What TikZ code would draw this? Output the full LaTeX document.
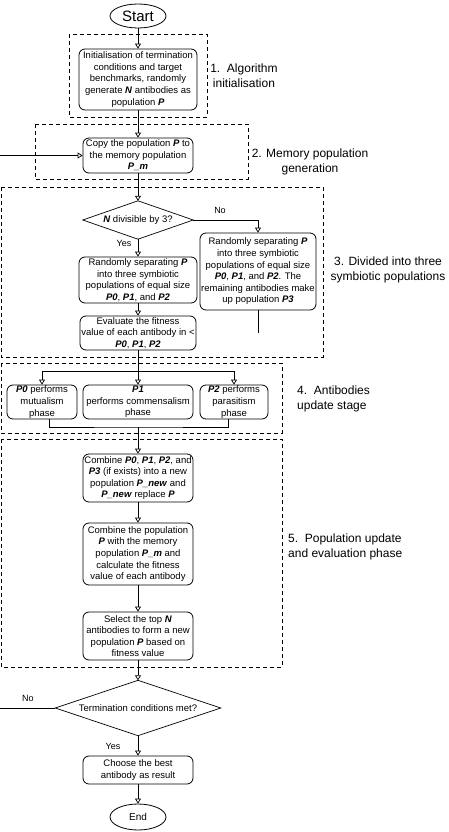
\documentclass[tikz,border=0pt]{standalone}
\usepackage{fontspec}
\setmainfont{Liberation Sans}
\usetikzlibrary{shapes.geometric,arrows.meta}
\newcommand{\bfit}[1]{\textbf{\textit{#1}}}
\begin{document}
\begin{tikzpicture}[x=1pt,y=-1pt,
  box/.style={draw, rounded corners=6pt, align=center, inner sep=0pt, line width=0.8pt,
    font=\fontsize{9.5}{11.6}\selectfont},
  term/.style={draw, ellipse, inner sep=0pt, line width=0.8pt},
  diam/.style={rectangle, inner sep=0pt, font=\fontsize{9.5}{11.6}\selectfont},
  diamline/.style={line width=0.7pt},
  grp/.style={draw, dash pattern=on 4pt off 3pt, line width=0.9pt},
  lab/.style={font=\fontsize{12}{15}\selectfont, align=center, inner sep=0pt},
  labl/.style={font=\fontsize{12}{15}\selectfont, align=left, inner sep=0pt, anchor=west},
  small/.style={font=\fontsize{9}{11}\selectfont, inner sep=0pt},
  arr/.style={-{Triangle[open,length=5pt,width=6pt]}, line width=0.7pt},
  ln/.style={line width=0.7pt}]
\useasboundingbox (0,0) rectangle (448,832);

% groups
\draw[grp] (69,34) rectangle (207,117);
\draw[grp] (35,124) rectangle (248,179);
\draw[grp] (1,187) rectangle (323,357);
\draw[grp] (1,363) rectangle (282,433);
\draw[grp] (1,439) rectangle (282,667);

% group labels
\node[lab] (l1) at (244,76) {1.\ \ Algorithm\\initialisation};
\node[lab] (l2) at (310,162) {2. Memory population\\generation};
\node[lab] (l3) at (388,270) {3. Divided into three\\symbiotic populations};
\node[labl] (l4) at (297,399) {4.\ \ Antibodies\\update stage};
\node[labl] (l5) at (288,547) {5.\ \ Population update\\and evaluation phase};

% nodes
\node[term, minimum width=56pt, minimum height=24pt, font=\fontsize{15}{18}\selectfont] (start) at (138,16) {Start};
\node[box, minimum width=118pt, minimum height=61pt] (b1) at (138,79.5)
  {Initialisation of termination\\conditions and target\\benchmarks, randomly\\generate \bfit{N} antibodies as\\population \bfit{P}};
\node[box, minimum width=110pt, minimum height=35pt] (b2) at (138,155.5)
  {Copy the population \bfit{P} to\\the memory population\\\bfit{P\_m}};
\node[diam, minimum width=110pt, minimum height=38pt] (d1) at (138,220) {\bfit{N} divisible by 3?};
\draw[diamline] (d1.north) -- (d1.east) -- (d1.south) -- (d1.west) -- cycle;
\node[box, minimum width=118pt, minimum height=46pt] (b3a) at (138,280)
  {Randomly separating \bfit{P}\\into three symbiotic\\populations of equal size\\\bfit{P0}, \bfit{P1}, and \bfit{P2}};
\node[box, minimum width=116pt, minimum height=77pt] (b3b) at (258,271.5)
  {Randomly separating \bfit{P}\\into three symbiotic\\populations of equal size\\\bfit{P0}, \bfit{P1}, and \bfit{P2}. The\\remaining antibodies make\\up population \bfit{P3}};
\node[box, minimum width=116pt, minimum height=34pt] (b3c) at (138,333)
  {Evaluate the fitness\\value of each antibody in <\\\bfit{P0}, \bfit{P1}, \bfit{P2}};
\node[box, minimum width=70pt, minimum height=34pt] (b4a) at (42,402)
  {\bfit{P0} performs\\mutualism\\phase};
\node[box, minimum width=110pt, minimum height=34pt] (b4b) at (138,402)
  {\bfit{P1}\\performs commensalism\\phase};
\node[box, minimum width=68pt, minimum height=34pt] (b4c) at (234,402)
  {\bfit{P2} performs\\parasitism\\phase};
\node[box, minimum width=110pt, minimum height=48pt] (b5a) at (138,478)
  {Combine \bfit{P0}, \bfit{P1}, \bfit{P2}, and\\\bfit{P3} (if exists) into a new\\population \bfit{P\_new} and\\\bfit{P\_new} replace \bfit{P}};
\node[box, minimum width=110pt, minimum height=62pt] (b5b) at (138,554)
  {Combine the population\\\bfit{P} with the memory\\population \bfit{P\_m} and\\calculate the fitness\\value of each antibody};
\node[box, minimum width=110pt, minimum height=48pt] (b5c) at (138,636)
  {Select the top \bfit{N}\\antibodies to form a new\\population \bfit{P} based on\\fitness value};
\node[diam, minimum width=165pt, minimum height=55pt] (d2) at (138,708) {Termination conditions met?};
\draw[diamline] (d2.north) -- (d2.east) -- (d2.south) -- (d2.west) -- cycle;
\node[box, minimum width=110pt, minimum height=28pt] (b6) at (138,770)
  {Choose the best\\antibody as result};
\node[term, minimum width=56pt, minimum height=26pt, font=\fontsize{10}{12}\selectfont] (end) at (138,817) {End};

% connector labels
\node[small] (no1) at (220,210) {No};
\node[small] (yes1) at (124,243) {Yes};
\node[small] (no2) at (28,698) {No};
\node[small] (yes2) at (113,746) {Yes};

% helper coordinates
\coordinate (c3b) at (258,333);
\coordinate (jl) at (42,371);
\coordinate (jr) at (234,371);
\coordinate (jb) at (138,427);
\coordinate (lft) at (-10,708);

% connectors
\draw[arr] (start) -- (b1);
\draw[arr] (b1) -- (b2);
\draw[arr] (b2) -- (d1.north);
\draw[arr] (d1.south) -- (b3a);
\draw[arr] (d1.east) -| (b3b.north);
\draw[arr] (b3a) -- (b3c);
\draw[ln] (b3b.south) -- (c3b);
\draw[arr] (b3c) -- (b4b);
\draw[ln] (jl) -- (jr);
\draw[arr] (jl) -- (b4a);
\draw[arr] (jr) -- (b4c);
\draw[ln] ([xshift=7pt]b4a.south) |- (jb) -| ([xshift=-6pt]b4c.south);
\draw[arr] (jb) -- (b5a);
\draw[arr] (b5a) -- (b5b);
\draw[arr] (b5b) -- (b5c);
\draw[arr] (b5c) -- (d2.north);
\draw[arr] (d2.south) -- (b6);
\draw[arr] (b6) -- (end);
\draw[arr] (d2.west) -- (lft) |- (b2.west);
\end{tikzpicture}
\end{document}
